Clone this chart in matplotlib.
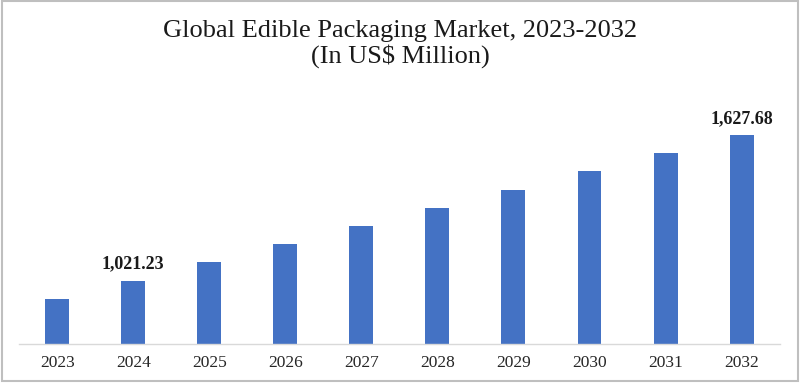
import matplotlib.pyplot as plt
from matplotlib.patches import Rectangle

years = ['2023', '2024', '2025', '2026', '2027', '2028', '2029', '2030', '2031', '2032']
market = [945.0, 1021.23, 1097.0, 1172.0, 1248.0, 1324.0, 1400.0, 1476.0, 1552.0, 1627.68]
labelled = {'2024': '1,021.23', '2032': '1,627.68'}

serif = ['Liberation Serif', 'DejaVu Serif']

fig = plt.figure(figsize=(8, 3.83), dpi=100)
fig.patch.set_facecolor('white')
# light grey frame round the whole picture
fig.patches.append(Rectangle((0.002, 0.004), 0.995, 0.993, transform=fig.transFigure,
                             fill=False, edgecolor='#bfbfbf', linewidth=1.5))

ax = fig.add_axes([0.024, 0.101, 0.9505, 0.586])
x = range(len(years))
ax.bar(x, market, width=0.315, color='#4472c4')
ax.set_xlim(-0.5, 9.5)
ax.set_ylim(756, 1691)

for s in ['top', 'right', 'left']:
    ax.spines[s].set_visible(False)
ax.spines['bottom'].set_color('#d9d9d9')
ax.spines['bottom'].set_linewidth(1.0)
ax.set_yticks([])
ax.set_xticks(list(x))
ax.set_xticklabels(years, family=serif, fontsize=12.5, color='#262626')
ax.tick_params(axis='x', length=0, pad=8)

for i, (yr, v) in enumerate(zip(years, market)):
    if yr in labelled:
        ax.annotate(labelled[yr], (i, v), xytext=(0, 6), textcoords='offset points',
                    ha='center', va='bottom', family=serif, fontsize=13,
                    fontweight='bold', color='#1a1a1a')

fig.text(0.5, 0.885, 'Global Edible Packaging Market, 2023-2032\n(In US$ Million)',
         ha='center', va='center', family=serif, fontsize=19, color='#1a1a1a',
         linespacing=1.1)

fig.savefig('out.png', dpi=100)
